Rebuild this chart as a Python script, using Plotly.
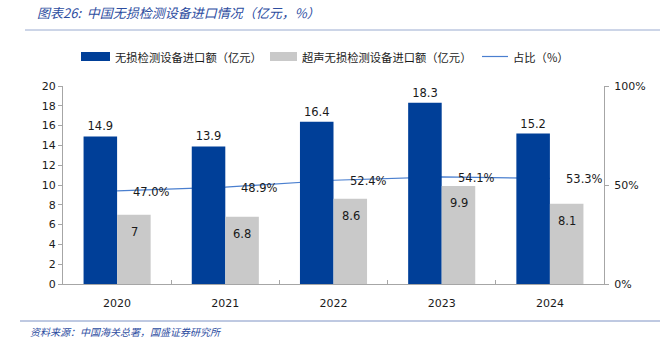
import plotly.graph_objects as go

# Data: China NDT equipment imports
years = ["2020", "2021", "2022", "2023", "2024"]
ndt_import = [14.9, 13.9, 16.4, 18.3, 15.2]          # 无损检测设备进口额（亿元）
ultrasonic_import = [7, 6.8, 8.6, 9.9, 8.1]          # 超声无损检测设备进口额（亿元）
ultrasonic_share = [47.0, 48.9, 52.4, 54.1, 53.3]    # 占比（%）

left_ticks = list(range(0, 21, 2))
right_ticks = [0, 50, 100]

W, H = 660, 346
L, R, T, B = 63, 56, 86, 62
PW, PH = W - L - R, H - T - B

BLUE = "#003f98"
GREY = "#c9c9c9"
LINE = "#4a7fcf"
TITLE_BLUE = "#2d4d9f"
AXIS = "#a6a6a6"
NUM_FONT = "DejaVu Sans, Noto Sans CJK SC, sans-serif"
CJK_FONT = "Noto Sans CJK SC, sans-serif"


def px(x):
    return (x - L) / PW


def py(y):
    return (H - B - y) / PH


fig = go.Figure()

# Share line sits on the base axis so the bars are drawn over it
fig.add_trace(go.Scatter(
    x=years, y=ultrasonic_share, yaxis="y", mode="lines",
    line=dict(color=LINE, width=1.2), showlegend=False, hoverinfo="skip",
))

fig.add_trace(go.Bar(
    x=years, y=ndt_import, yaxis="y2", marker=dict(color=BLUE, line=dict(width=0)),
    text=[f"{v:g}" for v in ndt_import], textposition="outside",
    textfont=dict(family=NUM_FONT, size=11.5, color="#1a1a1a"),
    cliponaxis=False, showlegend=False,
))
fig.add_trace(go.Bar(
    x=years, y=ultrasonic_import, yaxis="y2", marker=dict(color=GREY, line=dict(width=0)),
    showlegend=False,
))

annotations = []
# Labels inside the grey bars, just under their tops (x given as category index)
for i, v in enumerate(ultrasonic_import):
    annotations.append(dict(
        x=i, y=v, xref="x", yref="y2", text=f"{v:g}", showarrow=False,
        xanchor="center", yanchor="top", xshift=17, yshift=-8,
        font=dict(family=NUM_FONT, size=11.5, color="#1a1a1a"),
    ))
# Share labels to the right of each point
for i, v in enumerate(ultrasonic_share):
    annotations.append(dict(
        x=i, y=v, xref="x", yref="y", text=f"{v:.1f}%", showarrow=False,
        xanchor="left", yanchor="middle", xshift=14, yshift=-1,
        font=dict(family=NUM_FONT, size=11.5, color="#1a1a1a"),
    ))

# Title and source
annotations.append(dict(
    x=px(35), y=py(12), xref="paper", yref="paper", xanchor="left", yanchor="middle",
    text="图表26:  中国无损检测设备进口情况（亿元，%）", showarrow=False,
    font=dict(family=CJK_FONT, size=13, color=TITLE_BLUE, style="italic"),
))
annotations.append(dict(
    x=px(28), y=py(331), xref="paper", yref="paper", xanchor="left", yanchor="middle",
    text="资料来源：中国海关总署，国盛证券研究所", showarrow=False,
    font=dict(family=CJK_FONT, size=10, color=TITLE_BLUE, style="italic"),
))

# Legend entries
legend_items = [
    ("bar", BLUE, "无损检测设备进口额（亿元）", 81, 110),
    ("bar", GREY, "超声无损检测设备进口额（亿元）", 270, 297),
    ("line", LINE, "占比（%）", 482, 508),
]
shapes = []
for kind, color, label, x0, x1 in legend_items:
    if kind == "bar":
        shapes.append(dict(type="rect", xref="paper", yref="paper",
                           x0=px(x0), x1=px(x1), y0=py(61), y1=py(52),
                           fillcolor=color, line=dict(width=0)))
    else:
        shapes.append(dict(type="line", xref="paper", yref="paper",
                           x0=px(x0), x1=px(x1), y0=py(56.5), y1=py(56.5),
                           line=dict(color=color, width=1.2)))
    annotations.append(dict(
        x=px(x1 + 3), y=py(57), xref="paper", yref="paper", xanchor="left", yanchor="middle",
        text=label, showarrow=False, font=dict(family=CJK_FONT, size=11.3, color="#1a1a1a"),
    ))

# Header and footer rules
shapes.append(dict(type="line", xref="paper", yref="paper", x0=px(25), x1=px(660),
                   y0=py(30), y1=py(30), line=dict(color="#9aabd0", width=1)))
shapes.append(dict(type="line", xref="paper", yref="paper", x0=px(20), x1=px(660),
                   y0=py(321), y1=py(321), line=dict(color="#7f93c4", width=1)))

fig.update_layout(
    width=W, height=H, autosize=False,
    margin=dict(l=L, r=R, t=T, b=B, pad=0),
    paper_bgcolor="white", plot_bgcolor="white",
    barmode="group", bargap=0.38, bargroupgap=0,
    showlegend=False,
    xaxis=dict(
        type="category", range=[-0.5, len(years) - 0.5], autorange=False,
        showline=True, linecolor=AXIS, linewidth=1,
        ticks="inside", tickson="boundaries", ticklen=4, tickcolor=AXIS,
        tickfont=dict(family=NUM_FONT, size=11, color="#1a1a1a"),
        ticklabelstandoff=9,
        showgrid=False, zeroline=False, tickangle=0,
    ),
    yaxis=dict(
        side="right", range=[0, 100], autorange=False, tickvals=right_ticks,
        ticktext=[f"{t}%" for t in right_ticks],
        showline=True, linecolor=AXIS, linewidth=1,
        ticks="outside", ticklen=4, tickcolor=AXIS,
        tickfont=dict(family=NUM_FONT, size=11, color="#1a1a1a"),
        ticklabelstandoff=3,
        showgrid=False, zeroline=False,
    ),
    yaxis2=dict(
        side="left", overlaying="y", range=[0, 20], autorange=False, tickvals=left_ticks,
        showline=True, linecolor=AXIS, linewidth=1,
        ticks="outside", ticklen=4, tickcolor=AXIS,
        tickfont=dict(family=NUM_FONT, size=11, color="#1a1a1a"),
        showgrid=False, zeroline=False,
    ),
    annotations=annotations,
    shapes=shapes,
)

fig.write_html("out.html")
